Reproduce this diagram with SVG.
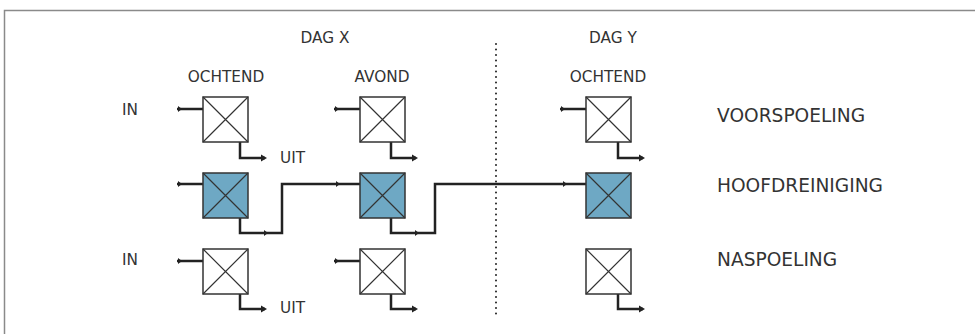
<svg xmlns="http://www.w3.org/2000/svg" xmlns:xlink="http://www.w3.org/1999/xlink" width="975" height="334" viewBox="0 0 975 334">
<style>
.t{font-family:"DejaVu Sans",Verdana,sans-serif;font-size:15.3px;fill:#333}
.tr{font-family:"DejaVu Sans",Verdana,sans-serif;font-size:18.6px;fill:#333}
.bx{stroke:#333;stroke-width:1.5;fill:#fff}
.bl{fill:#6ea8c4}
.x{stroke:#333;stroke-width:1.2;fill:none}
.c{stroke:#222;stroke-width:2.5;fill:none;stroke-linejoin:miter}
.ah{fill:#222}
</style>
<defs>
<path id="ah" d="M-6,-3.5 L0,0 L-6,3.5 z"/>
<path id="ai" d="M-4,-3 L0,0 L-4,3 z"/>
</defs>
<rect width="975" height="334" fill="#fff"/>
<path d="M4.5,334 V10.5 H975" fill="none" stroke="#8a8a8a" stroke-width="1.5"/>
<line x1="496" y1="44" x2="496" y2="316" stroke="#222" stroke-width="2" stroke-dasharray="0 5.5" stroke-linecap="round"/>
<g id="labels">
<text class="t" x="325" y="43" text-anchor="middle">DAG X</text>
<text class="t" x="613" y="43" text-anchor="middle">DAG Y</text>
<text class="t" x="226" y="82" text-anchor="middle">OCHTEND</text>
<text class="t" x="382" y="82" text-anchor="middle">AVOND</text>
<text class="t" x="608" y="82" text-anchor="middle">OCHTEND</text>
<text class="t" x="122" y="115">IN</text>
<text class="t" x="122" y="265">IN</text>
<text class="t" x="280" y="163">UIT</text>
<text class="t" x="280" y="313">UIT</text>
<text class="tr" x="717" y="122">VOORSPOELING</text>
<text class="tr" x="717" y="192">HOOFDREINIGING</text>
<text class="tr" x="717" y="266">NASPOELING</text>
</g>
<g id="connectors">
<path class="c" d="M177,109 H203 M240,142 V158 H265"/>
<path class="c" d="M334,109 H360 M391,142 V158 H416"/>
<path class="c" d="M560,109 H586 M618,142 V158 H643"/>
<path class="c" d="M177,184 H203 M240,218 V233 H282 V184 H360"/>
<path class="c" d="M391,218 V233 H435 V184 H586"/>
<path class="c" d="M177,261 H203 M240,294 V309 H265"/>
<path class="c" d="M334,261 H360 M391,294 V309 H416"/>
<path class="c" d="M618,294 V309 H643"/>
<g class="ah">
<use xlink:href="#ai" x="182" y="109"/>
<use xlink:href="#ai" x="339" y="109"/>
<use xlink:href="#ai" x="565" y="109"/>
<use xlink:href="#ai" x="182" y="184"/>
<use xlink:href="#ai" x="182" y="261"/>
<use xlink:href="#ai" x="339" y="261"/>
<use xlink:href="#ah" x="267" y="158"/>
<use xlink:href="#ah" x="418" y="158"/>
<use xlink:href="#ah" x="645" y="158"/>
<use xlink:href="#ah" x="267" y="309"/>
<use xlink:href="#ah" x="418" y="309"/>
<use xlink:href="#ah" x="645" y="309"/>
<use xlink:href="#ai" x="268" y="233"/>
<use xlink:href="#ai" x="340" y="184"/>
<use xlink:href="#ai" x="419" y="233"/>
<use xlink:href="#ai" x="567" y="184"/>
</g>
</g>
<g id="n-x1-voor"><rect class="bx" x="203" y="97" width="45" height="45"/><path class="x" d="M203,97 L248,142 M248,97 L203,142"/></g>
<g id="n-x2-voor"><rect class="bx" x="360" y="97" width="45" height="45"/><path class="x" d="M360,97 L405,142 M405,97 L360,142"/></g>
<g id="n-y1-voor"><rect class="bx" x="586" y="97" width="45" height="45"/><path class="x" d="M586,97 L631,142 M631,97 L586,142"/></g>
<g id="n-x1-hoofd"><rect class="bx bl" x="203" y="173" width="45" height="45"/><path class="x" d="M203,173 L248,218 M248,173 L203,218"/></g>
<g id="n-x2-hoofd"><rect class="bx bl" x="360" y="173" width="45" height="45"/><path class="x" d="M360,173 L405,218 M405,173 L360,218"/></g>
<g id="n-y1-hoofd"><rect class="bx bl" x="586" y="173" width="45" height="45"/><path class="x" d="M586,173 L631,218 M631,173 L586,218"/></g>
<g id="n-x1-na"><rect class="bx" x="203" y="249" width="45" height="45"/><path class="x" d="M203,249 L248,294 M248,249 L203,294"/></g>
<g id="n-x2-na"><rect class="bx" x="360" y="249" width="45" height="45"/><path class="x" d="M360,249 L405,294 M405,249 L360,294"/></g>
<g id="n-y1-na"><rect class="bx" x="586" y="249" width="45" height="45"/><path class="x" d="M586,249 L631,294 M631,249 L586,294"/></g>
</svg>
